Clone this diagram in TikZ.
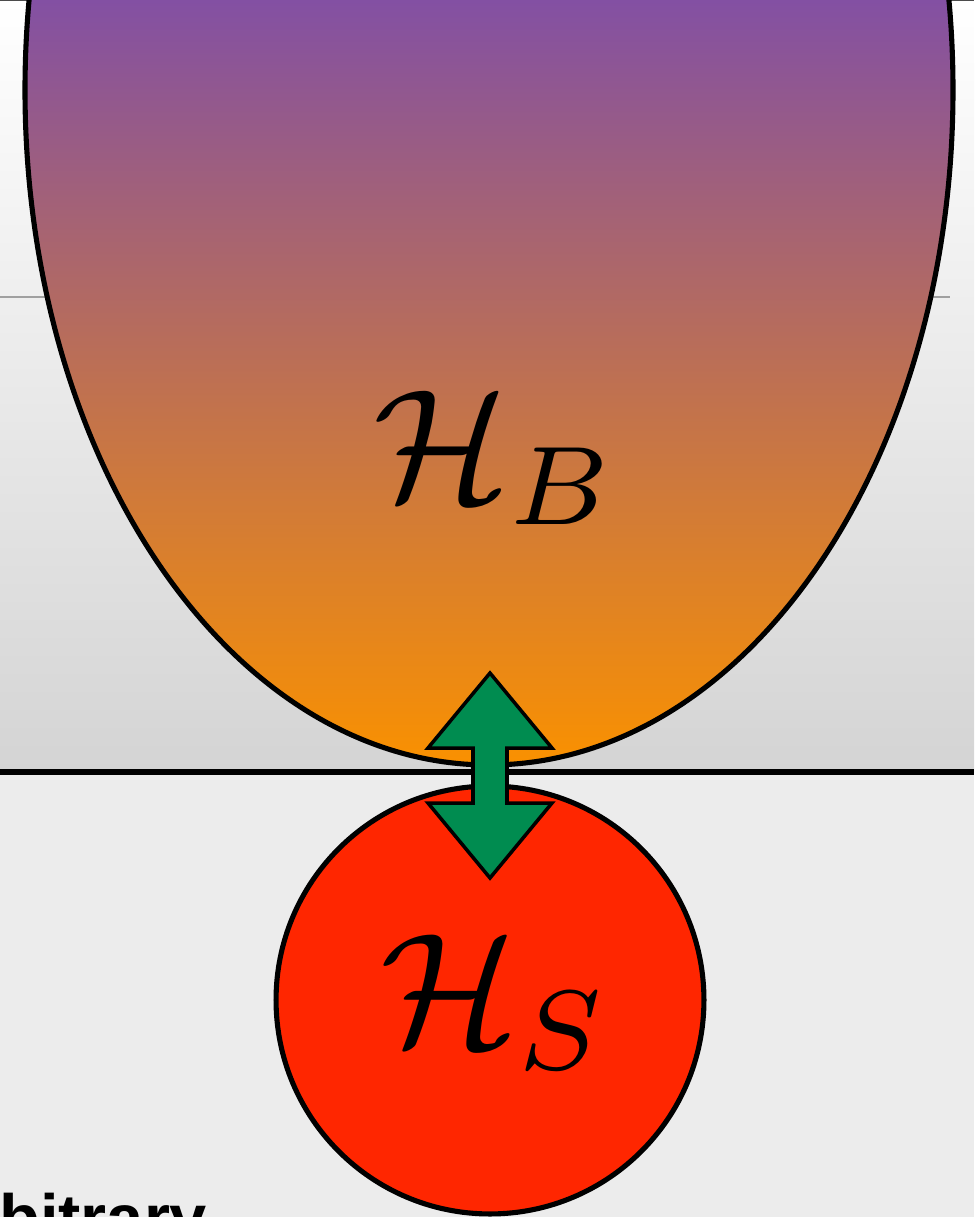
\documentclass[tikz,border=0pt]{standalone}
\usepackage{graphicx}
\usepackage{fontspec}
\newfontfamily\captionfont{Liberation Sans}
\usetikzlibrary{positioning}
\definecolor{bathTop}{RGB}{131, 80, 163}
\definecolor{bathBottom}{RGB}{250, 145, 0}
\definecolor{systemRed}{RGB}{255, 38, 0}
\definecolor{linkGreen}{RGB}{0, 140, 80}
\definecolor{backLight}{RGB}{236, 236, 236}
\definecolor{backGray}{RGB}{212, 212, 212}
\definecolor{guideGray}{RGB}{160, 160, 160}
\begin{document}
\begin{tikzpicture}[
  x=0.02cm, y=-0.02cm,
  outline/.style={draw=black, line width=2.9pt},
  system/.style={
    circle,
    outline,
    fill=systemRed,
    minimum size=8.56cm,
    inner sep=0pt
  },
  hamiltonian/.style={inner sep=0pt},
  link/.style={draw=black, line width=2pt, fill=linkGreen, line join=miter}
]
  \useasboundingbox (0,0) rectangle (974,1217);
  \clip (0,0) rectangle (974,1217);
  % background
  \shade[top color=white, bottom color=backGray] (0,0) rectangle (974,772);
  \fill[backLight] (0,772) rectangle (974,1217);
  \draw[guideGray, line width=1.2pt] (0,297) -- (950,297);
  \draw[black!70, line width=1pt] (0,0) -- (974,0);
  % bath
  \begin{scope}
    \clip (489,90) ellipse [x radius=464, y radius=675];
    \shade[top color=bathTop, bottom color=bathBottom] (0,0) rectangle (974,766);
  \end{scope}
  \draw[outline] (489,90) ellipse [x radius=464, y radius=675];
  \draw[black, line width=3.4pt] (0,772) -- (974,772);
  \node[hamiltonian] (bath) at (496,458) {\scalebox{9.1}{$\mathcal{H}_B$}};
  % system
  \node[system] (sys) at (490,1000) {};
  \node[hamiltonian] (sysLabel) at (496,1002) {\scalebox{9.2}{$\mathcal{H}_S$}};
  % coupling
  \coordinate (link) at (490,776);
  \draw[link] (link) ++(0,-103) -- ++(62,75) -- ++(-45,0) -- ++(0,55)
    -- ++(45,0) -- ++(-62,75) -- ++(-62,-75) -- ++(45,0) -- ++(0,-55)
    -- ++(-45,0) -- cycle;
  \node[anchor=base west, inner sep=0pt, font=\captionfont\bfseries\fontsize{38}{40}\selectfont] (caption) at (-1,1241) {bitrary};
\end{tikzpicture}
\end{document}
